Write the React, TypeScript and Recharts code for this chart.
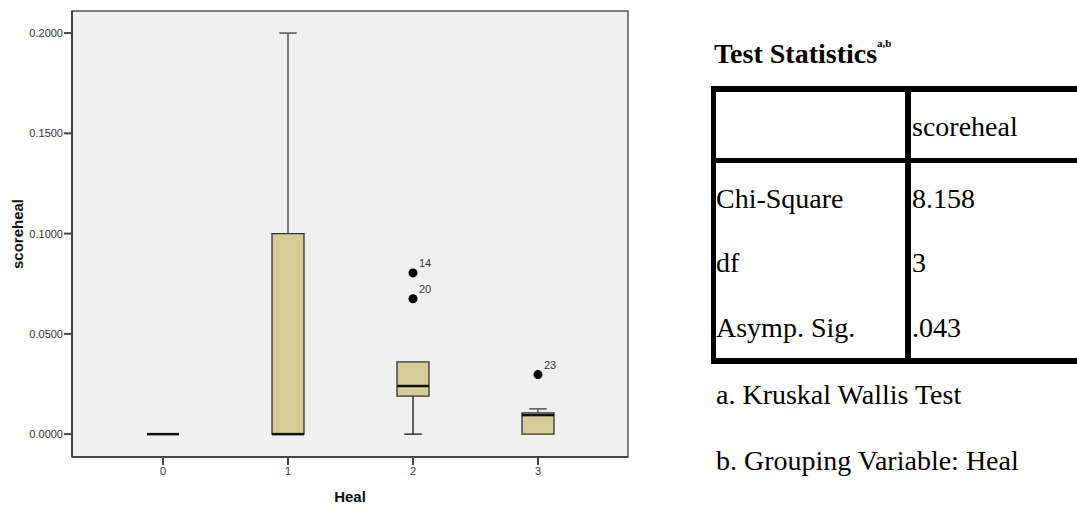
import {
  ComposedChart,
  XAxis,
  YAxis,
  ReferenceArea,
  ReferenceLine,
  Scatter,
  Label,
} from 'recharts';

// box plot summary per Heal group
const groups = [0, 1, 2, 3];
const lowWhisker = [0, 0, 0, 0];
const q1 = [0, 0, 0.019, 0];
const median = [0, 0, 0.024, 0.0095];
const q3 = [0, 0.1, 0.036, 0.0106];
const highWhisker = [0, 0.2, 0.036, 0.0126];

// outliers (case numbers shown as labels)
const outlierGroup = [2, 2, 3];
const outlierValue = [0.0804, 0.0675, 0.0297];
const outlierCase = ['14', '20', '23'];

const yTicks = [0, 0.05, 0.1, 0.15, 0.2];
const xDomain = [-0.728, 3.72];
const yDomain = [-0.0114, 0.211];

// test statistics table
const headerLabel = 'scoreheal';
const rowLabels = ['Chi-Square', 'df', 'Asymp. Sig.'];
const rowValues = ['8.158', '3', '.043'];
const footnotes = ['a. Kruskal Wallis Test', 'b. Grouping Variable: Heal'];

const SANS = '"Liberation Sans", Arial, sans-serif';
const SERIF = '"Liberation Serif", "Times New Roman", serif';
const BOX_HALF = 0.128;
const CAP_HALF = 0.07;

const outliers = outlierGroup.map((g, i) => ({
  x: g,
  y: outlierValue[i],
  id: outlierCase[i],
}));

const OutlierDot = (props: any) => {
  const { cx, cy, payload } = props;
  return (
    <g>
      <circle cx={cx} cy={cy} r={4.5} fill='#000' />
      <text x={cx + 6} y={cy - 6} fontSize={11} fill='#333' fontFamily={SANS}>
        {payload.id}
      </text>
    </g>
  );
};

function BoxChart() {
  return (
    <ComposedChart
      width={640}
      height={506}
      margin={{ top: 11, right: 12, left: 0, bottom: 0 }}
    >
      <XAxis
        type='number'
        dataKey='x'
        domain={xDomain}
        ticks={groups}
        allowDataOverflow
        height={49}
        tickSize={8}
        tickMargin={2}
        stroke='#444'
        strokeWidth={2}
        tick={{ fontSize: 11, fill: '#333', fontFamily: SANS }}
        tickFormatter={(v) => `${v}`}
      >
        <Label
          value='Heal'
          position='insideBottom'
          offset={4}
          style={{ fontSize: 15, fontWeight: 'bold', fill: '#111', fontFamily: SANS }}
        />
      </XAxis>
      <YAxis
        type='number'
        domain={yDomain}
        ticks={yTicks}
        allowDataOverflow
        width={72}
        tickSize={8}
        tickMargin={1}
        stroke='#444'
        strokeWidth={2}
        tick={{ fontSize: 11, fill: '#333', fontFamily: SANS }}
        tickFormatter={(v) => v.toFixed(4)}
      >
        <Label
          value='scoreheal'
          angle={-90}
          position='insideLeft'
          offset={18}
          style={{
            fontSize: 15,
            fontWeight: 'bold',
            fill: '#111',
            fontFamily: SANS,
            textAnchor: 'middle',
          }}
        />
      </YAxis>
      <ReferenceArea
        x1={xDomain[0]}
        x2={xDomain[1]}
        y1={yDomain[0]}
        y2={yDomain[1]}
        fill='#f0f0f0'
        fillOpacity={1}
        stroke='#555'
        strokeWidth={1.5}
      />
      {groups.map((g, i) => (
        <g key={`w${g}`}>
          {highWhisker[i] > q3[i] && (
            <ReferenceLine
              segment={[
                { x: g, y: q3[i] },
                { x: g, y: highWhisker[i] },
              ]}
              stroke='#555'
              strokeWidth={1.5}
            />
          )}
          {highWhisker[i] > q3[i] && (
            <ReferenceLine
              segment={[
                { x: g - CAP_HALF, y: highWhisker[i] },
                { x: g + CAP_HALF, y: highWhisker[i] },
              ]}
              stroke='#555'
              strokeWidth={1.5}
            />
          )}
          {lowWhisker[i] < q1[i] && (
            <ReferenceLine
              segment={[
                { x: g, y: lowWhisker[i] },
                { x: g, y: q1[i] },
              ]}
              stroke='#333'
              strokeWidth={1.5}
            />
          )}
          {lowWhisker[i] < q1[i] && (
            <ReferenceLine
              segment={[
                { x: g - CAP_HALF, y: lowWhisker[i] },
                { x: g + CAP_HALF, y: lowWhisker[i] },
              ]}
              stroke='#333'
              strokeWidth={1.5}
            />
          )}
        </g>
      ))}
      {groups.map((g, i) =>
        q3[i] > q1[i] ? (
          <ReferenceArea
            key={`b${g}`}
            x1={g - BOX_HALF}
            x2={g + BOX_HALF}
            y1={q1[i]}
            y2={q3[i]}
            fill='#d3ce97'
            fillOpacity={1}
            stroke='#333'
            strokeWidth={1.3}
          />
        ) : null
      )}
      {groups.map((g, i) => (
        <ReferenceLine
          key={`m${g}`}
          segment={[
            { x: g - BOX_HALF, y: median[i] },
            { x: g + BOX_HALF, y: median[i] },
          ]}
          stroke='#111'
          strokeWidth={2.5}
        />
      ))}
      <Scatter
        data={outliers}
        dataKey='y'
        isAnimationActive={false}
        shape={<OutlierDot />}
      />
    </ComposedChart>
  );
}

const cellText = (top: number, left: number, text: string, key: string) => (
  <div
    key={key}
    style={{
      position: 'absolute',
      top,
      left,
      fontSize: 28,
      lineHeight: 1,
      whiteSpace: 'nowrap',
      fontFamily: SERIF,
      color: '#000',
    }}
  >
    {text}
  </div>
);

export default function App() {
  const line = (left: number, top: number, width: number, height: number) => ({
    position: 'absolute' as const,
    left,
    top,
    width,
    height,
    background: '#000',
  });
  return (
    <div
      style={{
        position: 'absolute',
        left: 0,
        top: 0,
        width: 1077,
        height: 506,
        overflow: 'hidden',
        background: '#fff',
      }}
    >
      <div style={{ position: 'absolute', left: 0, top: 0 }}>
        <BoxChart />
      </div>
      <div
        style={{
          position: 'absolute',
          left: 714,
          top: 39.5,
          fontSize: 28,
          lineHeight: 1,
          fontWeight: 'bold',
          fontFamily: SERIF,
          whiteSpace: 'nowrap',
        }}
      >
        Test Statistics
        <span style={{ fontSize: 11, position: 'relative', top: -16 }}>a,b</span>
      </div>
      <div style={line(711, 86, 366, 6)} />
      <div style={line(711, 86, 5, 278)} />
      <div style={line(905, 86, 6, 278)} />
      <div style={line(711, 158, 366, 5)} />
      <div style={line(711, 358, 366, 6)} />
      {cellText(112.5, 912, headerLabel, 'h')}
      {rowLabels.map((r, i) => cellText(184.5 + i * 64.5, 716, r, `l${i}`))}
      {rowValues.map((v, i) => cellText(184.5 + i * 64.5, 912, v, `v${i}`))}
      {footnotes.map((f, i) => cellText(380.5 + i * 66, 716, f, `f${i}`))}
    </div>
  );
}
